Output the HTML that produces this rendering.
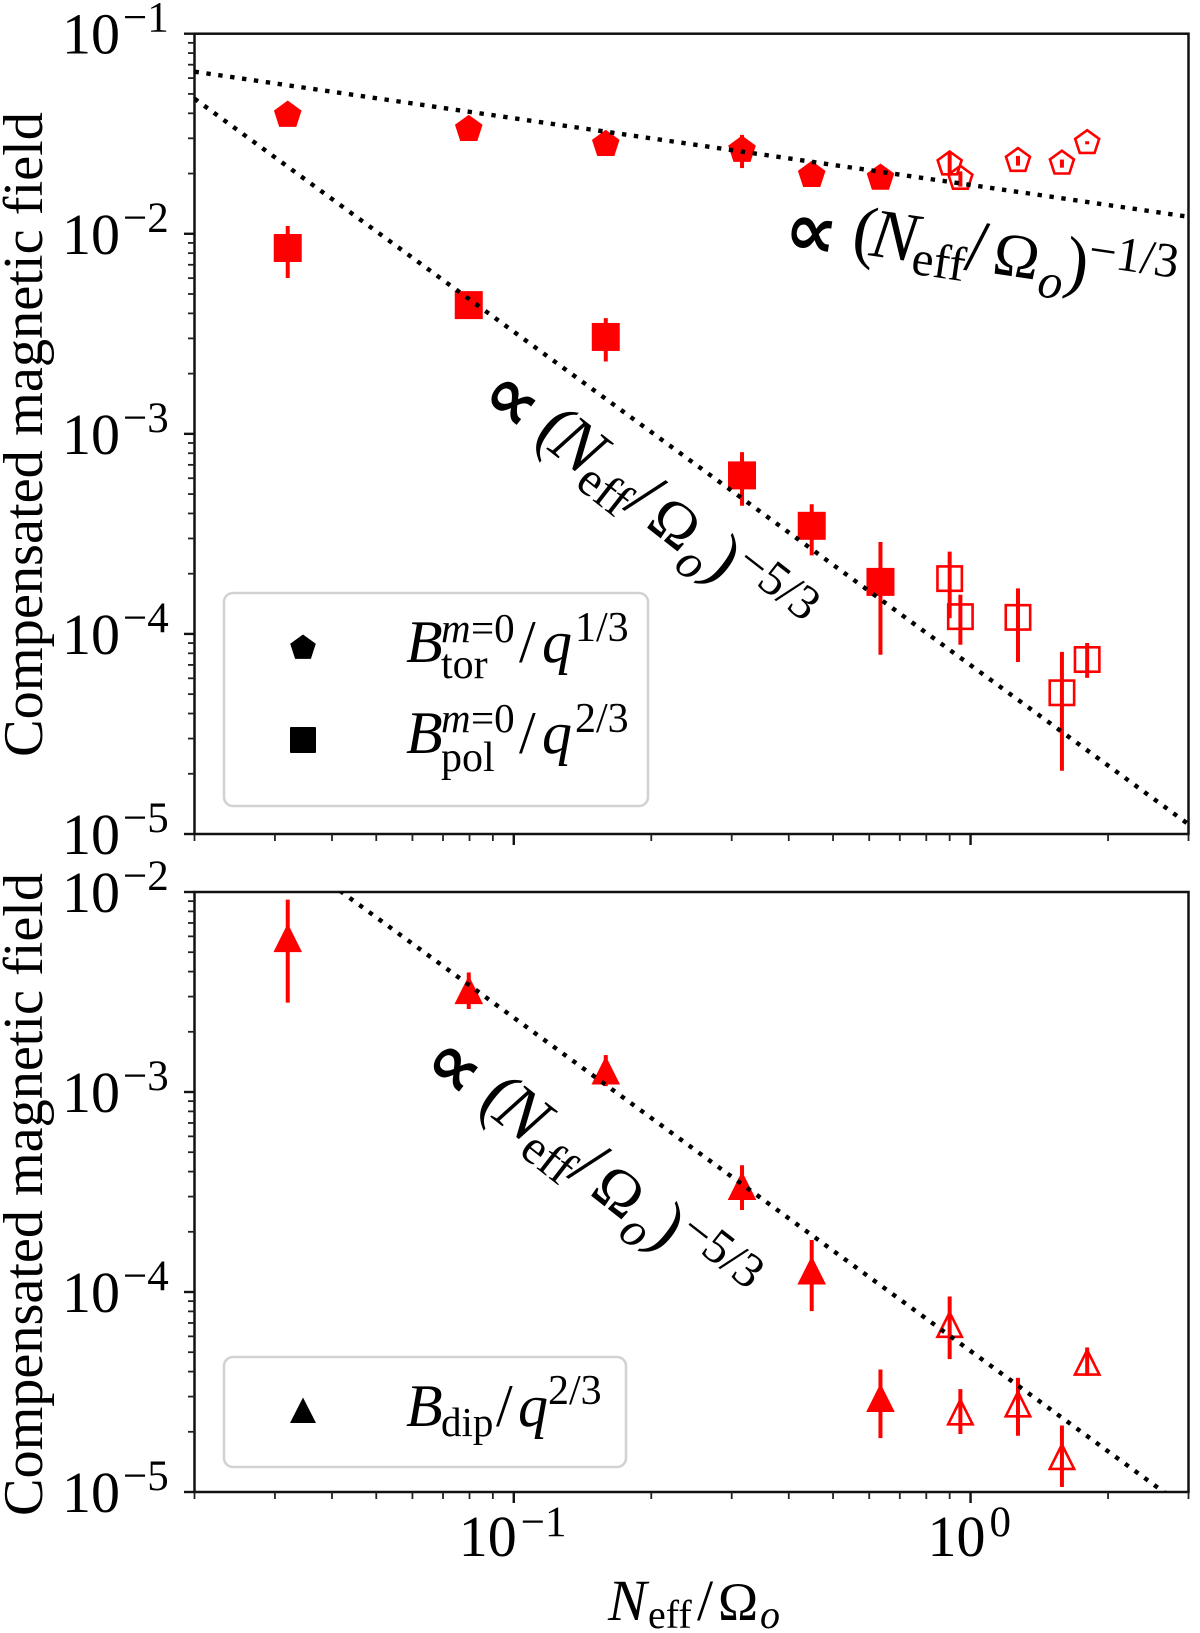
<!DOCTYPE html>
<html lang="en">
<head>
<meta charset="utf-8">
<title>Compensated magnetic field scaling</title>
<style>
html,body{margin:0;padding:0;background:#fff;width:1200px;height:1633px;overflow:hidden}
svg{display:block}
text{font-family:"Liberation Serif","DejaVu Serif",serif;fill:#000}
.it{font-style:italic}
.prop{font-family:"DejaVu Sans","Liberation Serif",sans-serif}
</style>
</head>
<body>
<svg id="chart" xmlns="http://www.w3.org/2000/svg" width="1200" height="1633" viewBox="0 0 1200 1633">
  <defs>
    <clipPath id="clip-top"><rect x="194.5" y="33.7" width="994" height="800.3"/></clipPath>
    <clipPath id="clip-bottom"><rect x="194.5" y="892" width="994" height="600"/></clipPath>
  </defs>
  <rect x="0" y="0" width="1200" height="1633" fill="#fff"/>
  <g id="top-panel"></g>
  <g id="bottom-panel"></g>

  <text transform="translate(42,757) rotate(-90)" font-size="56" textLength="645" lengthAdjust="spacingAndGlyphs">Compensated magnetic field</text>
  <text transform="translate(42,1516) rotate(-90)" font-size="56" textLength="643" lengthAdjust="spacingAndGlyphs">Compensated magnetic field</text>

  <g>
    <text class="it" x="608" y="1620" font-size="58">N</text>
    <text x="648" y="1628" font-size="40">eff</text>
    <text x="697" y="1620" font-size="58">/</text>
    <text x="718" y="1620" font-size="54">Ω</text>
    <text class="it" x="760" y="1628" font-size="40">o</text>
  </g>

  <g transform="translate(791,244) rotate(8.3)">
    <text class="prop" x="-8" y="9" font-size="74" font-weight="bold">∝</text>
    <text x="60" y="0" font-size="70">(</text>
    <text class="it" x="78" y="0" font-size="70">N</text>
    <text x="122" y="12" font-size="49">eff</text>
    <text x="174" y="0" font-size="74">/</text>
    <text x="202" y="0" font-size="62">Ω</text>
    <text class="it" x="250" y="16" font-size="49">o</text>
    <text x="274" y="0" font-size="70">)</text>
    <text x="296" y="-22" font-size="49">−1/3</text>
  </g>

  <g transform="translate(485,401) rotate(38)">
    <text class="prop" x="-6" y="6" font-size="74" font-weight="bold">∝</text>
    <text x="60" y="0" font-size="70">(</text>
    <text class="it" x="78" y="0" font-size="70">N</text>
    <text x="122" y="12" font-size="49">eff</text>
    <text x="174" y="0" font-size="74">/</text>
    <text x="202" y="0" font-size="62">Ω</text>
    <text class="it" x="250" y="16" font-size="49">o</text>
    <text x="274" y="0" font-size="70">)</text>
    <text x="298" y="-22" font-size="49">−5/3</text>
  </g>

  <g transform="translate(429,1069) rotate(38)">
    <text class="prop" x="-8" y="6" font-size="74" font-weight="bold">∝</text>
    <text x="60" y="0" font-size="70">(</text>
    <text class="it" x="78" y="0" font-size="70">N</text>
    <text x="122" y="12" font-size="49">eff</text>
    <text x="174" y="0" font-size="74">/</text>
    <text x="202" y="0" font-size="62">Ω</text>
    <text class="it" x="250" y="16" font-size="49">o</text>
    <text x="274" y="0" font-size="70">)</text>
    <text x="298" y="-22" font-size="49">−5/3</text>
  </g>

  <g>
    <rect x="224" y="593" width="424" height="213" rx="9" ry="9" fill="#fff" fill-opacity="0.8" stroke="#d2d2d2" stroke-width="2.6"/>
    <polygon points="303,634.5 315.8,643.8 310.9,658.9 295.1,658.9 290.2,643.8" fill="#000"/>
    <rect x="290" y="727" width="26" height="26" rx="1" fill="#000"/>
    <g>
      <text class="it" x="406" y="662" font-size="60">B</text>
      <text class="it" x="441" y="642" font-size="41">m</text>
      <text x="471" y="642" font-size="41">=0</text>
      <text x="441" y="678" font-size="42">tor</text>
      <text x="519" y="662" font-size="60">/</text>
      <text class="it" x="542" y="662" font-size="60">q</text>
      <text x="575" y="641" font-size="42">1/3</text>
    </g>
    <g>
      <text class="it" x="406" y="753" font-size="60">B</text>
      <text class="it" x="441" y="732" font-size="41">m</text>
      <text x="471" y="732" font-size="41">=0</text>
      <text x="441" y="771" font-size="42">pol</text>
      <text x="519" y="753" font-size="60">/</text>
      <text class="it" x="542" y="753" font-size="60">q</text>
      <text x="575" y="732" font-size="42">2/3</text>
    </g>
  </g>

  <g>
    <rect x="224" y="1357" width="402" height="110" rx="9" ry="9" fill="#fff" fill-opacity="0.8" stroke="#d2d2d2" stroke-width="2.6"/>
    <polygon points="303,1397.5 316,1423 290,1423" fill="#000"/>
    <g>
      <text class="it" x="406" y="1426" font-size="60">B</text>
      <text x="441" y="1436" font-size="41">dip</text>
      <text x="496" y="1426" font-size="60">/</text>
      <text class="it" x="518" y="1426" font-size="60">q</text>
      <text x="548" y="1404" font-size="42">2/3</text>
    </g>
  </g>
</svg>

<script>
// ---- Data ----
const xValues = [0.032, 0.0797, 0.159, 0.316, 0.449, 0.635, 0.9, 0.95, 1.27, 1.585, 1.8];
const filledCount = 6;

const torValues = [0.0392, 0.0333, 0.0280, 0.0262, 0.0196, 0.0190, 0.0223, 0.0189, 0.0232, 0.0225, 0.0285];
const torHigh   = [0.0400, 0.0340, 0.0285, 0.0312, 0.0200, 0.0195, 0.0255, 0.0205, 0.0245, 0.0235, 0.0290];
const torLow    = [0.0385, 0.0326, 0.0275, 0.0213, 0.0192, 0.0185, 0.0195, 0.0172, 0.0219, 0.0214, 0.0280];

const polValues = [0.00849, 0.0044, 0.00305, 0.00062, 0.000347, 0.000182, 0.000189, 0.000122, 0.000121, 0.0000508, 0.0000745];
const polHigh   = [0.01093, 0.0048, 0.00379, 0.00081, 0.000445, 0.000288, 0.000258, 0.000157, 0.000169, 0.0000813, 0.0000901];
const polLow    = [0.00601, 0.0040, 0.00230, 0.000437, 0.000247, 0.0000787, 0.00012, 0.0000883, 0.0000724, 0.0000207, 0.0000603];

const dipValues = [0.00588, 0.00323, 0.00128, 0.000339, 0.000128, 0.0000295, 0.0000687, 0.0000251, 0.0000275, 0.000015, 0.0000445];
const dipHigh   = [0.00916, 0.00396, 0.00153, 0.00043, 0.000182, 0.000041, 0.000095, 0.0000327, 0.0000372, 0.0000215, 0.0000528];
const dipLow    = [0.0028, 0.0026, 0.00107, 0.000257, 0.0000802, 0.0000186, 0.0000462, 0.0000195, 0.0000191, 0.0000106, 0.0000381];

const topLineCoefficients = [0.01754, 0.0000698];
const topLineExponents = [-1/3, -5/3];
const bottomLineCoefficients = [0.0000507];
const bottomLineExponents = [-5/3];

const xLimits = [0.02, 3];
const topYLimits = [0.1, 0.00001];
const bottomYLimits = [0.01, 0.00001];

const xMajorTicks = [0.1, 1];
const xMinorTicks = [0.02, 0.03, 0.04, 0.05, 0.06, 0.07, 0.08, 0.09, 0.2, 0.3, 0.4, 0.5, 0.6, 0.7, 0.8, 0.9, 2, 3];
const topYExponents = [-1, -2, -3, -4, -5];
const bottomYExponents = [-2, -3, -4, -5];
const minorMultipliers = [2, 3, 4, 5, 6, 7, 8, 9];
const xTickExponents = [-1, 0];

// ---- Axis functions ----
const SVGNS = 'http://www.w3.org/2000/svg';
const plotLeft = 194.5, plotRight = 1188.5;
const topPanelBox = {top: 33.7, bottom: 834};
const bottomPanelBox = {top: 892, bottom: 1492};

function xAxis(v) {
  return plotLeft + (Math.log10(v) - Math.log10(xLimits[0])) /
    (Math.log10(xLimits[1]) - Math.log10(xLimits[0])) * (plotRight - plotLeft);
}
function yAxisTop(v) {
  return topPanelBox.top + (Math.log10(topYLimits[0]) - Math.log10(v)) /
    (Math.log10(topYLimits[0]) - Math.log10(topYLimits[1])) * (topPanelBox.bottom - topPanelBox.top);
}
function yAxisBottom(v) {
  return bottomPanelBox.top + (Math.log10(bottomYLimits[0]) - Math.log10(v)) /
    (Math.log10(bottomYLimits[0]) - Math.log10(bottomYLimits[1])) * (bottomPanelBox.bottom - bottomPanelBox.top);
}

function make(parent, tag, attrs) {
  const el = document.createElementNS(SVGNS, tag);
  for (const k in attrs) el.setAttribute(k, attrs[k]);
  parent.appendChild(el);
  return el;
}

function pentagonPoints(cx, cy, r) {
  const pts = [];
  for (let i = 0; i < 5; i++) {
    const a = -Math.PI / 2 + i * 2 * Math.PI / 5;
    pts.push((cx + r * Math.cos(a)).toFixed(2) + ',' + (cy + r * Math.sin(a)).toFixed(2));
  }
  return pts.join(' ');
}
function trianglePoints(cx, cy, r) {
  return cx.toFixed(2) + ',' + (cy - r).toFixed(2) + ' ' + (cx + r).toFixed(2) + ',' + (cy + r).toFixed(2) + ' ' + (cx - r).toFixed(2) + ',' + (cy + r).toFixed(2);
}

function drawSeries(group, seriesName, shape, values, highs, lows, yAxisFn) {
  for (let i = 0; i < values.length; i++) {
    const cx = xAxis(xValues[i]);
    const cy = yAxisFn(values[i]);
    const filled = i < filledCount;

    const bar = make(group, 'line', {x1: cx, x2: cx, y1: yAxisFn(highs[i]), y2: yAxisFn(lows[i]), stroke: '#ff0000', 'stroke-width': 4});
    
    

    const size = filled ? 13.5 : 12.2;
    const paint = {fill: filled ? '#ff0000' : 'none', stroke: '#ff0000', 'stroke-width': filled ? 1 : 2.6, 'stroke-linejoin': 'miter'};
    let marker;
    if (shape === 'pentagon') {
      marker = make(group, 'polygon', Object.assign({points: pentagonPoints(cx, cy, size + 0.4)}, paint));
    } else if (shape === 'square') {
      marker = make(group, 'rect', Object.assign({x: cx - size, y: cy - size, width: 2 * size, height: 2 * size}, paint));
    } else {
      marker = make(group, 'polygon', Object.assign({points: trianglePoints(cx, cy, size)}, paint));
    }
    
    
  }
}

function drawFit(group, coefficient, exponent, yAxisFn, clipId) {
  const x0 = xLimits[0], x1 = xLimits[1];
  const fit = make(group, 'line', {
    x1: xAxis(x0), y1: yAxisFn(coefficient * Math.pow(x0, exponent)),
    x2: xAxis(x1), y2: yAxisFn(coefficient * Math.pow(x1, exponent)),
    stroke: '#000', 'stroke-width': 4.4, 'stroke-dasharray': '4.4 7.6', 'clip-path': 'url(#' + clipId + ')'
  });
  
  
}

function drawFrame(group, box, yAxisFn, exponents, labelled) {
  const frame = make(group, 'rect', {x: plotLeft, y: box.top, width: plotRight - plotLeft, height: box.bottom - box.top, fill: 'none', stroke: '#111', 'stroke-width': 2.5});
  
  

  xMajorTicks.forEach(function (v) {
    const t = make(group, 'line', {x1: xAxis(v), x2: xAxis(v), y1: box.bottom, y2: box.bottom + 11, stroke: '#111', 'stroke-width': 2.4});
    
    
  });
  xMinorTicks.forEach(function (v) {
    const t = make(group, 'line', {x1: xAxis(v), x2: xAxis(v), y1: box.bottom, y2: box.bottom + 7, stroke: '#222', 'stroke-width': 1.8});
    
    
  });

  exponents.forEach(function (e) {
    const v = Math.pow(10, e);
    const y = yAxisFn(v);
    const t = make(group, 'line', {x1: plotLeft - 10.5, x2: plotLeft, y1: y, y2: y, stroke: '#111', 'stroke-width': 2.4});
    
    

    const base = make(group, 'text', {x: 62, y: y + 20, 'font-size': 58});
    base.textContent = '10';
    
    
    const sup = make(group, 'text', {x: 123, y: y - 2, 'font-size': 43});
    sup.textContent = '−' + Math.abs(e);
    
    

    if (e !== exponents[exponents.length - 1]) {
      minorMultipliers.forEach(function (m) {
        const my = yAxisFn(v / 10 * m);
        const mt = make(group, 'line', {x1: plotLeft - 6.5, x2: plotLeft, y1: my, y2: my, stroke: '#222', 'stroke-width': 1.8});
        
        
      });
    }
  });

  if (labelled) {
    xTickExponents.forEach(function (e) {
      const tick = xAxis(Math.pow(10, e));
      const negative = e < 0;
      const left = negative ? tick - 55 : tick - 43;
      const base = make(group, 'text', {x: left, y: 1556, 'font-size': 58});
      base.textContent = '10';
      
      
      const sup = make(group, 'text', {x: left + 62, y: 1536, 'font-size': 43});
      sup.textContent = (negative ? '−' : '') + Math.abs(e);
      
      
    });
  }
}

// ---- Build chart ----
const topPanel = document.getElementById('top-panel');
const bottomPanel = document.getElementById('bottom-panel');

drawFrame(topPanel, topPanelBox, yAxisTop, topYExponents, false);
drawFrame(bottomPanel, bottomPanelBox, yAxisBottom, bottomYExponents, true);

drawSeries(topPanel, 'toroidal-field', 'pentagon', torValues, torHigh, torLow, yAxisTop);
drawSeries(topPanel, 'poloidal-field', 'square', polValues, polHigh, polLow, yAxisTop);
drawSeries(bottomPanel, 'dipole-field', 'triangle', dipValues, dipHigh, dipLow, yAxisBottom);

topLineCoefficients.forEach(function (c, i) {
  drawFit(topPanel, c, topLineExponents[i], yAxisTop, 'clip-top');
});
bottomLineCoefficients.forEach(function (c, i) {
  drawFit(bottomPanel, c, bottomLineExponents[i], yAxisBottom, 'clip-bottom');
});
</script>
</body>
</html>
